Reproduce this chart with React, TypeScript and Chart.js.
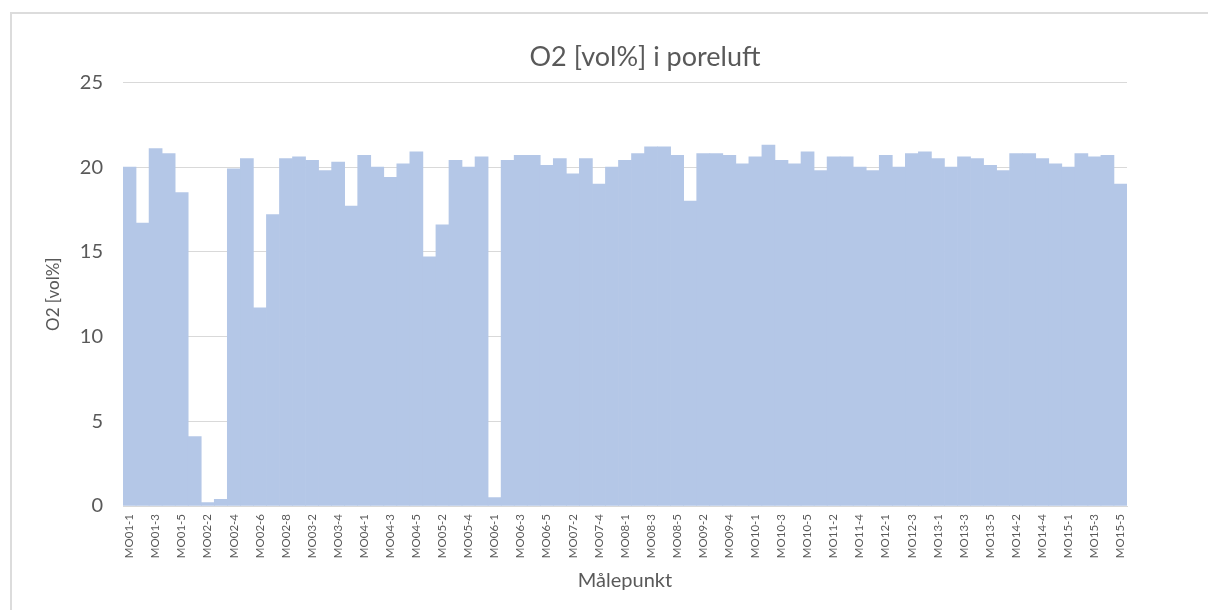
import React, { useEffect, useRef } from "react";
import { Chart, registerables } from "chart.js";

Chart.register(...registerables);

const categories: string[] = [
  "MO01-1", "MO01-2", "MO01-3", "MO01-4", "MO01-5",
  "MO02-1", "MO02-2", "MO02-3", "MO02-4", "MO02-5", "MO02-6", "MO02-7", "MO02-8",
  "MO03-1", "MO03-2", "MO03-3", "MO03-4", "MO03-5",
  "MO04-1", "MO04-2", "MO04-3", "MO04-4", "MO04-5",
  "MO05-1", "MO05-2", "MO05-3", "MO05-4", "MO05-5",
  "MO06-1", "MO06-2", "MO06-3", "MO06-4", "MO06-5",
  "MO07-1", "MO07-2", "MO07-3", "MO07-4", "MO07-5",
  "MO08-1", "MO08-2", "MO08-3", "MO08-4", "MO08-5",
  "MO09-1", "MO09-2", "MO09-3", "MO09-4", "MO09-5",
  "MO10-1", "MO10-2", "MO10-3", "MO10-4", "MO10-5",
  "MO11-1", "MO11-2", "MO11-3", "MO11-4", "MO11-5",
  "MO12-1", "MO12-2", "MO12-3", "MO12-4",
  "MO13-1", "MO13-2", "MO13-3", "MO13-4", "MO13-5",
  "MO14-1", "MO14-2", "MO14-3", "MO14-4", "MO14-5",
  "MO15-1", "MO15-2", "MO15-3", "MO15-4", "MO15-5",
];

const o2Values: number[] = [
  20.0, 16.7, 21.1, 20.8, 18.5,
  4.1, 0.2, 0.4, 19.9, 20.5, 11.7, 17.2, 20.5,
  20.6, 20.4, 19.8, 20.3, 17.7,
  20.7, 20.0, 19.4, 20.2, 20.9,
  14.7, 16.6, 20.4, 20.0, 20.6,
  0.5, 20.4, 20.7, 20.7, 20.1,
  20.5, 19.6, 20.5, 19.0, 20.0,
  20.4, 20.8, 21.2, 21.2, 20.7,
  18.0, 20.8, 20.8, 20.7, 20.2,
  20.6, 21.3, 20.4, 20.2, 20.9,
  19.8, 20.6, 20.6, 20.0, 19.8,
  20.7, 20.0, 20.8, 20.9,
  20.5, 20.0, 20.6, 20.5, 20.1,
  19.8, 20.8, 20.8, 20.5, 20.2,
  20.0, 20.8, 20.6, 20.7, 19.0,
];

const yMin = 0;
const yMax = 25;
const yStep = 5;

const chartTitle = "O2 [vol%] i poreluft";
const xTitle = "Målepunkt";
const yTitle = "O2 [vol%]";

export default function App() {
  const ref = useRef<HTMLCanvasElement | null>(null);

  useEffect(() => {
    if (!ref.current) return;
    const chart = new Chart(ref.current, {
      type: "bar",
      data: {
        labels: categories,
        datasets: [
          {
            data: o2Values,
            backgroundColor: "#B4C7E7",
            borderWidth: 0,
            barPercentage: 1,
            categoryPercentage: 1,
            yAxisID: "y",
          },
        ],
      },
      options: {
        animation: false,
        responsive: false,
        maintainAspectRatio: false,
        layout: { padding: { left: 0, right: 0, top: 0, bottom: 0 } },
        plugins: {
          legend: { display: false },
          tooltip: { enabled: false },
          title: {
            display: true,
            text: chartTitle,
            color: "#595959",
            font: { family: "Lato", size: 27, weight: "normal" },
            padding: { top: 41, bottom: 9 },
          },
        },
        scales: {
          x: {
            grid: { display: true, color: "transparent", drawTicks: false },
            border: { display: true, color: "#D9D9D9" },
            ticks: {
              autoSkip: false,
              minRotation: 90,
              maxRotation: 90,
              padding: 8,
              color: "#595959",
              font: { family: "Lato", size: 11.5 },
              callback: (_v: any, i: number) => (i % 2 === 0 ? categories[i] : ""),
            },
            title: {
              display: true,
              text: xTitle,
              color: "#595959",
              font: { family: "Lato", size: 20 },
              padding: { top: 0, bottom: 17 },
            },
            afterFit: (s: any) => {
              s.height = 104;
            },
          },
          y: {
            min: yMin,
            max: yMax,
            ticks: {
              stepSize: yStep,
              color: "#595959",
              font: { family: "Lato", size: 20 },
              padding: 20,
            },
            grid: { color: "#D9D9D9", drawTicks: false },
            border: { display: false },
            title: {
              display: true,
              text: yTitle,
              color: "#595959",
              font: { family: "Lato", size: 17 },
              padding: { top: 43, bottom: 0 },
            },
            afterFit: (s: any) => {
              s.width = 123;
            },
          },
          yRight: {
            position: "right",
            display: true,
            grid: { display: false, drawTicks: false },
            border: { display: false },
            ticks: { display: false },
            afterFit: (s: any) => {
              s.width = 163;
            },
          },
        },
      },
    } as any);
    return () => chart.destroy();
  }, []);

  return (
    <div
      style={{
        position: "fixed",
        left: 0,
        top: 0,
        width: 1208,
        height: 610,
        overflow: "hidden",
        background: "#ffffff",
      }}
    >
      <div
        style={{
          position: "absolute",
          left: 10,
          top: 12,
          width: 1400,
          height: 800,
          borderLeft: "2px solid #DCDCDC",
          borderTop: "2px solid #DCDCDC",
          boxSizing: "border-box",
        }}
      />
      <canvas
        ref={ref}
        width={1290}
        height={610}
        style={{ position: "absolute", left: 0, top: 0, display: "block" }}
      />
    </div>
  );
}
